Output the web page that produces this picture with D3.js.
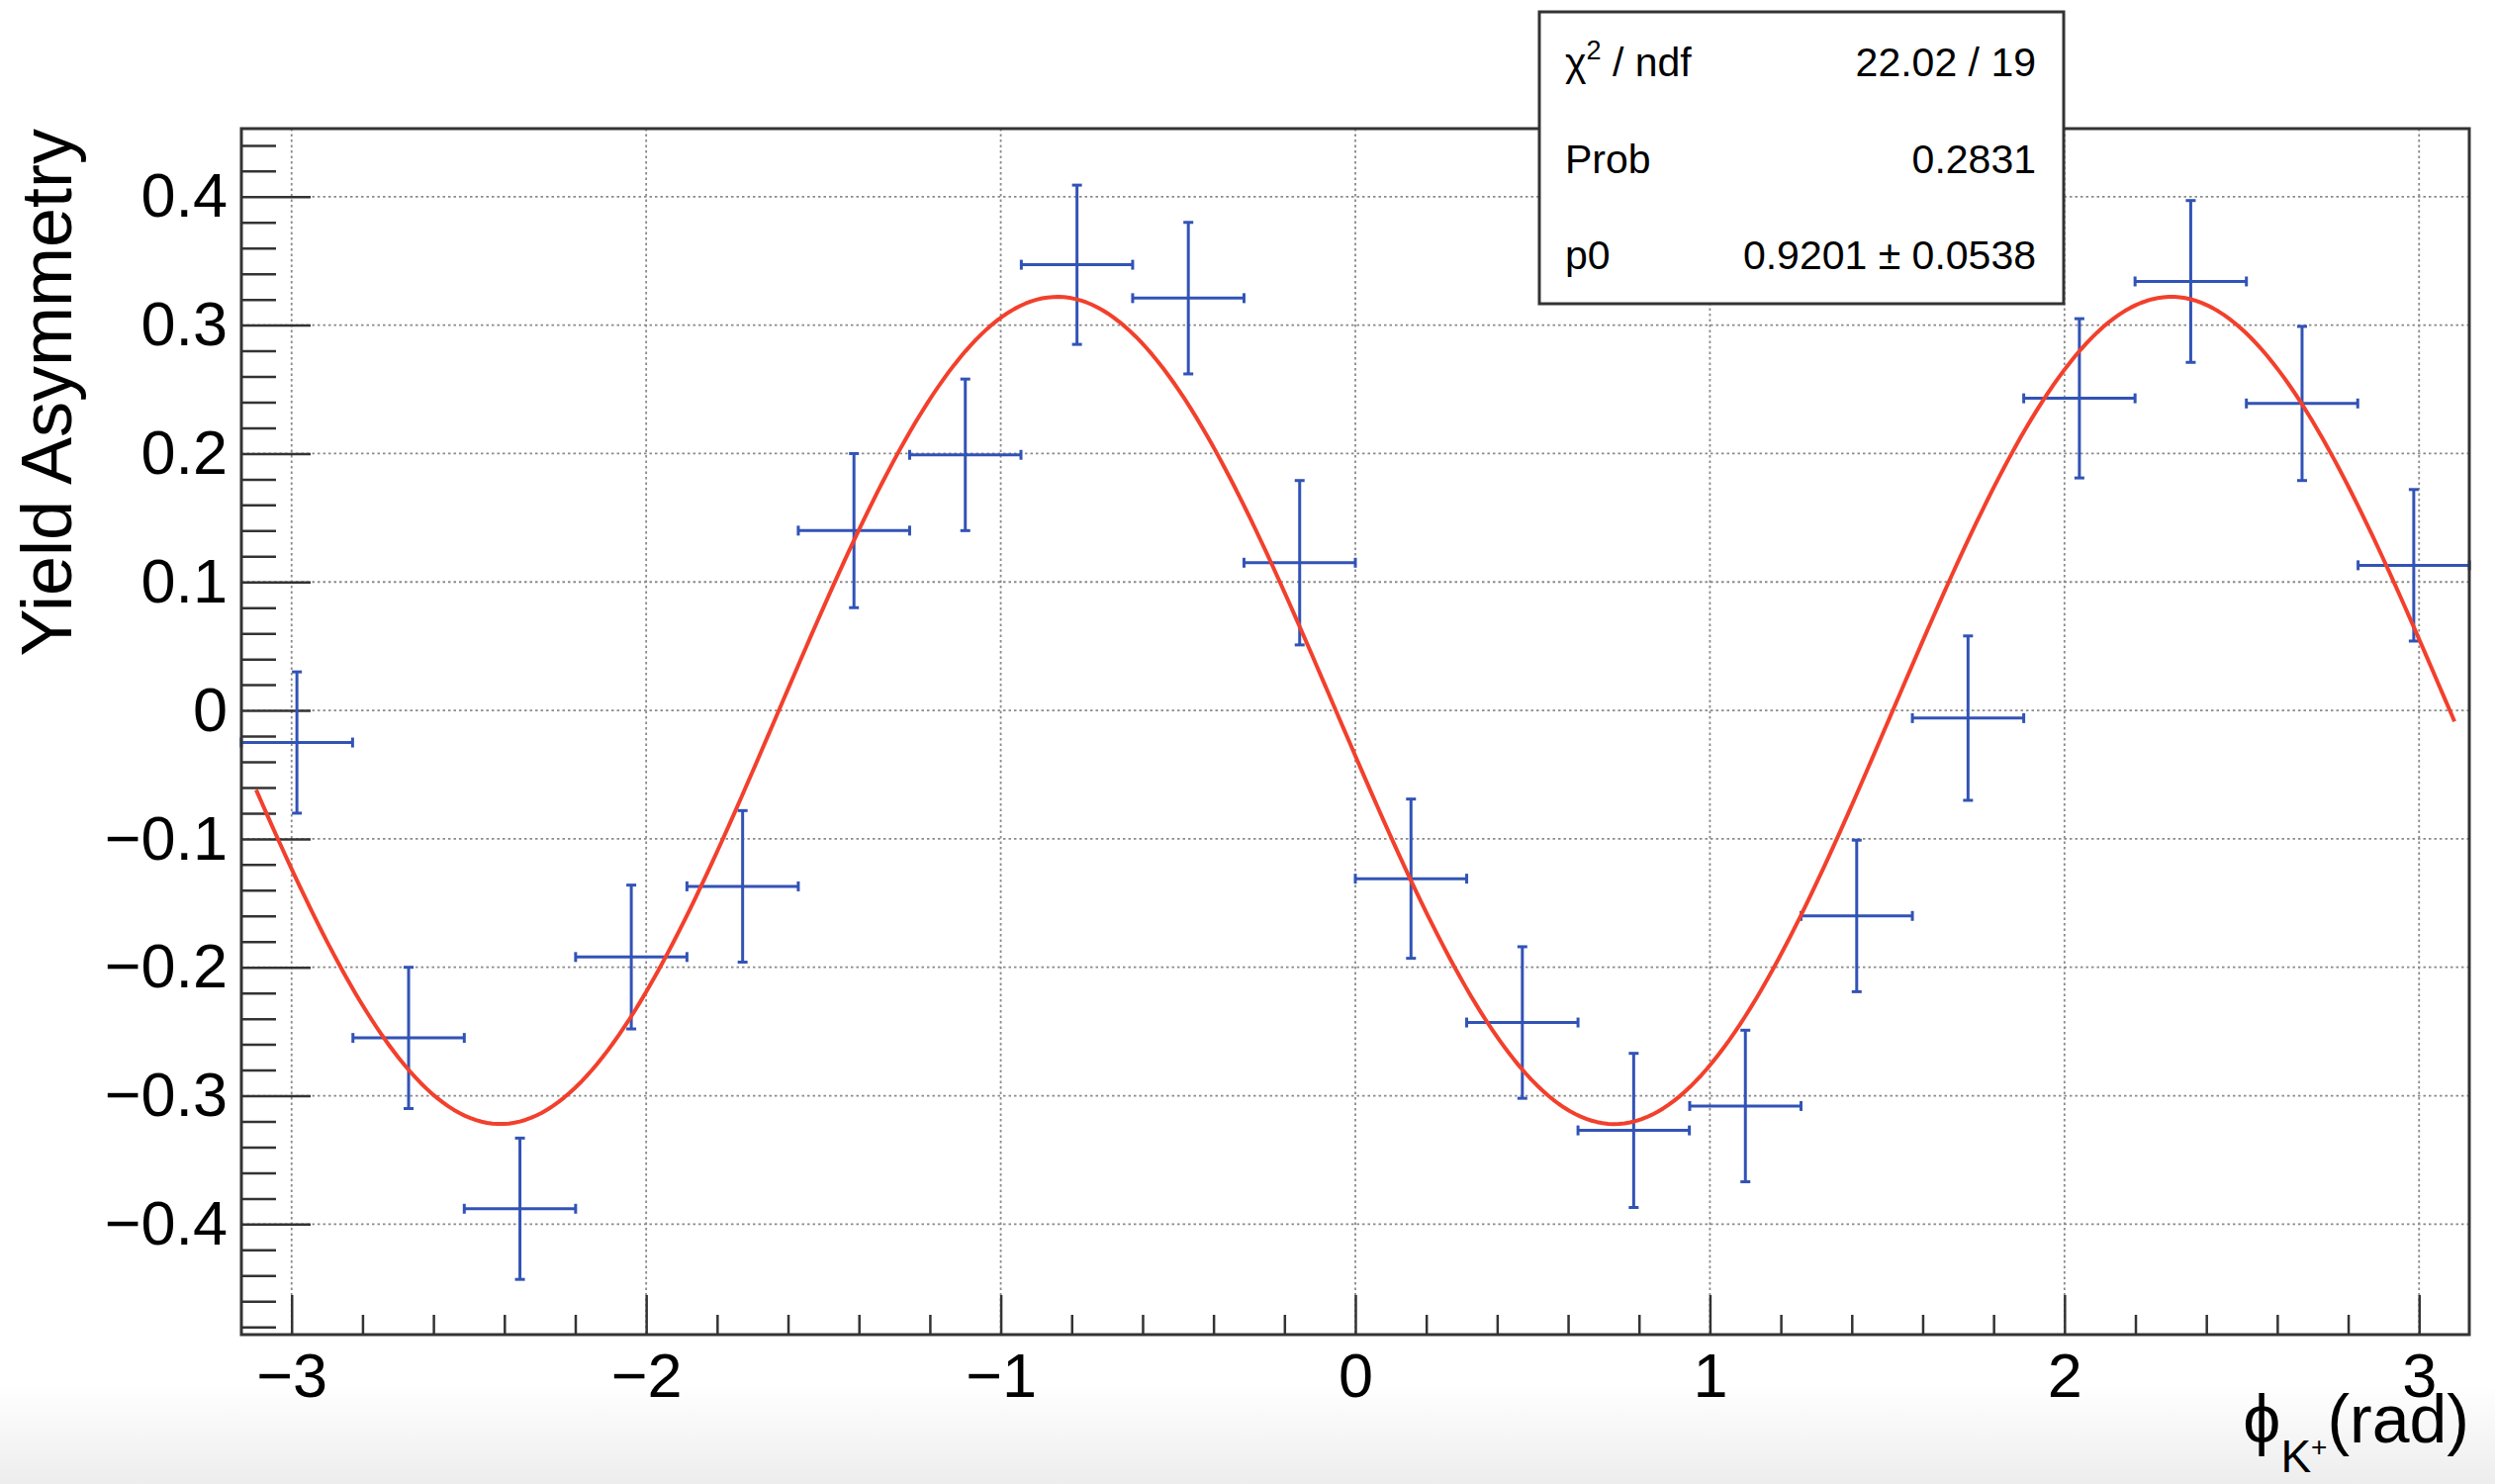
<!DOCTYPE html>
<html>
<head>
<meta charset="utf-8">
<script src="https://cdn.jsdelivr.net/npm/d3@7"></script>
<style>
  html, body { margin: 0; padding: 0; background: #ffffff; }
  svg { display: block; font-family: "Liberation Sans", Arial, Helvetica, sans-serif; }
</style>
</head>
<body>
<svg id="chart" width="2522" height="1500"></svg>
<script>
// Azimuthal bins of the K+ (bin centres, rad) and measured yield asymmetry
const phiCenters = [-2.985, -2.670, -2.356, -2.042, -1.728, -1.414, -1.100, -0.785, -0.471, -0.157,
                     0.157,  0.471,  0.785,  1.100,  1.414,  1.728,  2.042,  2.356,  2.670,  2.985];
const asymmetry  = [-0.025, -0.255, -0.388, -0.192, -0.137,  0.140,  0.199,  0.347,  0.321,  0.115,
                    -0.131, -0.243, -0.327, -0.308, -0.160, -0.006,  0.243,  0.334,  0.239,  0.113];
const asymErrors = [ 0.055,  0.055,  0.055,  0.056,  0.059,  0.060,  0.059,  0.062,  0.059,  0.064,
                     0.062,  0.059,  0.060,  0.059,  0.059,  0.064,  0.062,  0.063,  0.060,  0.059];
const phiHalfWidth = 0.157;

// Axis ticks
const xMajorTicks = [-3, -2, -1, 0, 1, 2, 3];
const yMajorTicks = [-0.4, -0.3, -0.2, -0.1, 0, 0.1, 0.2, 0.3, 0.4];

// Fit result (one free parameter p0) and the fixed inputs of the fit model
const fitP0 = 0.9201;
const beamPolarization = 0.35;
const phaseOffset = 0.11;
const fitRange = [-3.1, 3.1];

// Fit statistics box
const statsNames  = ["χ", "Prob", "p0"];
const statsValues = ["22.02 / 19", "0.2831", "0.9201 ± 0.0538"];

// Axis ranges
const xDomain = [-Math.PI, Math.PI];
const yDomain = [-0.486, 0.453];

// ---------------------------------------------------------------------------
const W = 2522, H = 1500;
const frame = { left: 244, right: 2496, top: 130, bottom: 1349 };

const svg = d3.select("#chart");

const x = d3.scaleLinear().domain(xDomain).range([frame.left, frame.right]);
const y = d3.scaleLinear().domain(yDomain).range([frame.bottom, frame.top]);

// page background with a faint grey band along the bottom edge
const defs = svg.append("defs");
const grad = defs.append("linearGradient").attr("id", "bottomFade")
  .attr("x1", 0).attr("y1", 0).attr("x2", 0).attr("y2", 1);
grad.append("stop").attr("offset", 0).attr("stop-color", "#ffffff");
grad.append("stop").attr("offset", 1).attr("stop-color", "#ededed");
svg.append("rect").attr("width", W).attr("height", H).attr("fill", "#ffffff");
svg.append("rect").attr("x", 0).attr("y", 1400).attr("width", W).attr("height", 100)
  .attr("fill", "url(#bottomFade)");

// minor tick positions
const yMinorTicks = d3.range(-24, 23).map(k => k * 0.02)
  .filter(v => v >= yDomain[0] && v <= yDomain[1] && Math.abs(Math.round(v * 10) - v * 10) > 1e-6);
const xMinorTicks = d3.range(-15, 16).map(k => k * 0.2)
  .filter(v => v >= xDomain[0] && v <= xDomain[1] && Math.abs(Math.round(v) - v) > 1e-6);

// dotted grid
const grid = svg.append("g").attr("class", "grid")
  .attr("stroke", "#8a8a8a").attr("stroke-width", 1.8).attr("stroke-dasharray", "2.5,3");
grid.selectAll("line.gx").data(xMajorTicks).join("line").attr("class", "gx")
  .attr("x1", d => x(d)).attr("x2", d => x(d))
  .attr("y1", frame.top).attr("y2", frame.bottom);
grid.selectAll("line.gy").data(yMajorTicks).join("line").attr("class", "gy")
  .attr("x1", frame.left).attr("x2", frame.right)
  .attr("y1", d => y(d)).attr("y2", d => y(d));

const fmt = d3.format("~g");

// x axis: major ticks with labels, minor ticks without
svg.append("g").attr("transform", `translate(0,${frame.bottom})`)
  .call(d3.axisBottom(x).tickValues(xMajorTicks).tickSizeInner(-40).tickSizeOuter(0)
        .tickPadding(18).tickFormat(fmt));
svg.append("g").attr("transform", `translate(0,${frame.bottom})`)
  .call(d3.axisBottom(x).tickValues(xMinorTicks).tickSizeInner(-20).tickSizeOuter(0).tickFormat(""))
  .attr("class", "minor");

// y axis
svg.append("g").attr("transform", `translate(${frame.left},0)`)
  .call(d3.axisLeft(y).tickValues(yMajorTicks).tickSizeInner(-70).tickSizeOuter(0)
        .tickPadding(14).tickFormat(fmt));
svg.append("g").attr("transform", `translate(${frame.left},0)`)
  .call(d3.axisLeft(y).tickValues(yMinorTicks).tickSizeInner(-35).tickSizeOuter(0).tickFormat(""))
  .attr("class", "minor");

svg.selectAll(".domain").remove();
svg.selectAll(".tick line").attr("stroke", "#333333").attr("stroke-width", 2.5);
svg.selectAll(".tick text").attr("fill", "#000000").attr("font-size", 63)
  .attr("font-family", "'Liberation Sans', Arial, Helvetica, sans-serif");

// data points with error bars
const barColor = "#3253b6";
const pts = phiCenters.map((c, i) => ({ c, v: asymmetry[i], e: asymErrors[i] }));
const cap = 5;
const bars = svg.append("g").attr("class", "points")
  .attr("stroke", barColor).attr("stroke-width", 3).attr("fill", "none");
const pg = bars.selectAll("g").data(pts).join("g");
pg.append("line")
  .attr("x1", d => x(d.c)).attr("x2", d => x(d.c))
  .attr("y1", d => y(d.v - d.e)).attr("y2", d => y(d.v + d.e));
pg.append("line")
  .attr("x1", d => x(d.c - phiHalfWidth)).attr("x2", d => x(d.c + phiHalfWidth))
  .attr("y1", d => y(d.v)).attr("y2", d => y(d.v));
// end caps
pg.append("line")
  .attr("x1", d => x(d.c) - cap).attr("x2", d => x(d.c) + cap)
  .attr("y1", d => y(d.v + d.e)).attr("y2", d => y(d.v + d.e));
pg.append("line")
  .attr("x1", d => x(d.c) - cap).attr("x2", d => x(d.c) + cap)
  .attr("y1", d => y(d.v - d.e)).attr("y2", d => y(d.v - d.e));
pg.append("line")
  .attr("x1", d => x(d.c - phiHalfWidth)).attr("x2", d => x(d.c - phiHalfWidth))
  .attr("y1", d => y(d.v) - cap).attr("y2", d => y(d.v) + cap);
pg.append("line")
  .attr("x1", d => x(d.c + phiHalfWidth)).attr("x2", d => x(d.c + phiHalfWidth))
  .attr("y1", d => y(d.v) - cap).attr("y2", d => y(d.v) + cap);

// fitted asymmetry curve
const fitModel = phi => -fitP0 * beamPolarization * Math.sin(2 * phi + phaseOffset);
const curvePts = d3.range(0, 401).map(k => {
  const phi = fitRange[0] + (fitRange[1] - fitRange[0]) * k / 400;
  return [phi, fitModel(phi)];
});
svg.append("path").datum(curvePts)
  .attr("fill", "none").attr("stroke", "#f2402c").attr("stroke-width", 4)
  .attr("stroke-linejoin", "round")
  .attr("d", d3.line().x(d => x(d[0])).y(d => y(d[1])));

// frame
svg.append("rect")
  .attr("x", frame.left).attr("y", frame.top)
  .attr("width", frame.right - frame.left).attr("height", frame.bottom - frame.top)
  .attr("fill", "none").attr("stroke", "#333333").attr("stroke-width", 3);

// axis titles
svg.append("text")
  .attr("transform", `translate(72,${frame.top}) rotate(-90)`)
  .attr("text-anchor", "end").attr("font-size", 72).attr("fill", "#000")
  .text("Yield Asymmetry");

const xt = svg.append("text")
  .attr("x", frame.right).attr("y", 1458)
  .attr("text-anchor", "end").attr("font-size", 68).attr("fill", "#000");
xt.append("tspan").text("ϕ");
xt.append("tspan").attr("font-size", 46).attr("dy", 30).text("K");
xt.append("tspan").attr("font-size", 28).attr("dy", -16).text("+");
xt.append("tspan").attr("dy", -14).text("(rad)");

// statistics box
const box = { x: 1556, y: 12, w: 530, h: 295 };
svg.append("rect").attr("x", box.x).attr("y", box.y).attr("width", box.w).attr("height", box.h)
  .attr("fill", "#ffffff").attr("stroke", "#333333").attr("stroke-width", 3);
const rowBaselines = [77, 175, 272];
const st = svg.append("g").attr("font-size", 41).attr("fill", "#000");
statsNames.forEach((name, i) => {
  const t = st.append("text").attr("x", box.x + 26).attr("y", rowBaselines[i]);
  if (i === 0) {
    t.append("tspan").text(name);
    t.append("tspan").attr("font-size", 27).attr("dy", -17).text("2");
    t.append("tspan").attr("dy", 17).text(" / ndf");
  } else {
    t.text(name);
  }
  st.append("text").attr("x", box.x + 502).attr("y", rowBaselines[i])
    .attr("text-anchor", "end").text(statsValues[i]);
});
</script>
</body>
</html>
